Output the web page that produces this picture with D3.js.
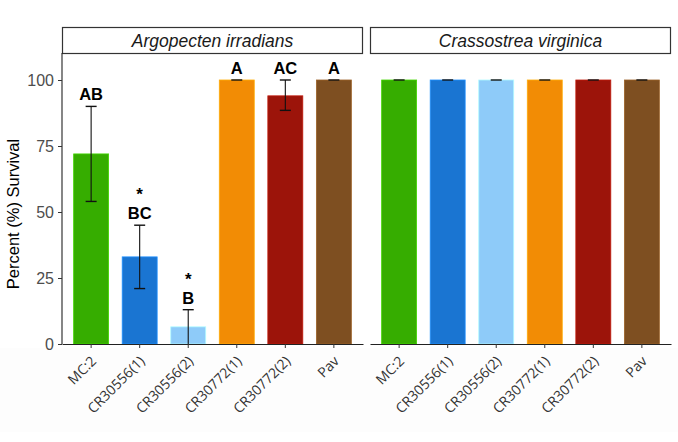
<!DOCTYPE html>
<html><head><meta charset="utf-8">
<script src="https://cdn.jsdelivr.net/npm/d3@7"></script>
<style>body{margin:0;background:#fff}svg{display:block}</style>
</head><body>
<svg id="c" width="678" height="442"></svg>
<script>
const categories = ["MC:2","CR30556(1)","CR30556(2)","CR30772(1)","CR30772(2)","Pav"];
const colors = ["#36ad00","#1a75d2","#8ecbf9","#f28c05","#9c140a","#7e4f21"];
const panels = ["Argopecten irradians","Crassostrea virginica"];
const argoMean = [72, 33, 6.5, 100, 94, 100];
const argoLow  = [54, 21, 0, 100, 88.5, 100];
const argoHigh = [90, 45, 13, 100, 100, 100];
const argoLetters = ["AB","BC","B","A","AC","A"];
const argoStars = ["","*","*","","",""];
const crasMean = [100,100,100,100,100,100];
const crasLow  = [100,100,100,100,100,100];
const crasHigh = [100,100,100,100,100,100];
const yTicks = [0,25,50,75,100];

const svg = d3.select("#c");
svg.append("rect").attr("x",0).attr("y",348).attr("width",678).attr("height",84).attr("fill","#fdfdfd");

const y = d3.scaleLinear().domain([0,100]).range([344,80]);
const panelX = [[62,363],[370,671]];
const sets = [
  {mean:argoMean, low:argoLow, high:argoHigh, letters:argoLetters, stars:argoStars},
  {mean:crasMean, low:crasLow, high:crasHigh, letters:null, stars:null}
];
const font = "Liberation Sans, Arial, sans-serif";

panels.forEach((name,p)=>{
  const [x0,x1] = panelX[p];
  const x = d3.scaleBand().domain(categories).range([x0,x1]).paddingInner(0.28).paddingOuter(0.24);
  const s = sets[p];
  const rows = categories.map((c,i)=>({c, i, mean:s.mean[i], low:s.low[i], high:s.high[i],
    letter: s.letters ? s.letters[i] : "", star: s.stars ? s.stars[i] : ""}));
  const g = svg.append("g");
  // strip
  g.append("rect").attr("x",x0+0.5).attr("y",27.5).attr("width",x1-x0-1).attr("height",26)
    .attr("fill","#fff").attr("stroke","#333").attr("stroke-width",1.2);
  g.append("text").attr("x",(x0+x1)/2).attr("y",46.5).attr("text-anchor","middle")
    .attr("font-family",font).attr("font-size",17.5).attr("font-style","italic")
    .attr("fill","#1a1a1a").text(name);
  // bars
  g.selectAll("rect.bar").data(rows).join("rect").attr("class","bar")
    .attr("x",d=>x(d.c)).attr("width",x.bandwidth())
    .attr("y",d=>y(d.mean)).attr("height",d=>y(0)-y(d.mean))
    .attr("fill",d=>colors[d.i]).attr("stroke",d=>d3.color(colors[d.i]).brighter(0.6)).attr("stroke-width",0.8);
  // error bars
  const cx = d => x(d.c)+x.bandwidth()/2;
  const eb = g.selectAll("g.eb").data(rows).join("g").attr("class","eb");
  eb.filter(d=>d.high>d.low).append("line").attr("x1",cx).attr("x2",cx).attr("y1",d=>y(d.low)).attr("y2",d=>y(d.high))
    .attr("stroke","#111").attr("stroke-width",1.1);
  eb.append("line").attr("x1",d=>cx(d)-5.5).attr("x2",d=>cx(d)+5.5).attr("y1",d=>y(d.high)).attr("y2",d=>y(d.high))
    .attr("stroke","#111").attr("stroke-width",1.4);
  eb.filter(d=>d.low>0 && d.low<d.high).append("line").attr("x1",d=>cx(d)-5.5).attr("x2",d=>cx(d)+5.5).attr("y1",d=>y(d.low)).attr("y2",d=>y(d.low))
    .attr("stroke","#111").attr("stroke-width",1.4);
  // letters
  g.selectAll("text.let").data(rows.filter(d=>d.letter)).join("text").attr("class","let")
    .attr("x",cx).attr("y",d=>y(d.high)-6).attr("text-anchor","middle")
    .attr("font-family",font).attr("font-weight","bold").attr("font-size",16.5)
    .attr("fill","#000").text(d=>d.letter);
  g.selectAll("text.star").data(rows.filter(d=>d.star)).join("text").attr("class","star")
    .attr("x",cx).attr("y",d=>y(d.high)-25).attr("text-anchor","middle")
    .attr("font-family",font).attr("font-weight","bold").attr("font-size",17)
    .attr("fill","#000").text(d=>d.star);
  // x axis
  const xa = g.append("g").attr("transform",`translate(0,${y(0)})`)
    .call(d3.axisBottom(x).tickSize(4).tickSizeOuter(0));
  xa.select(".domain").attr("stroke","#222").attr("stroke-width",1.1);
  xa.selectAll(".tick line").attr("stroke","#333");
  xa.selectAll(".tick text").attr("font-family","Open Sans, sans-serif").attr("font-size",14).attr("fill","#333")
    .attr("text-anchor","end").attr("y",0).attr("dy",0).attr("dx",0)
    .attr("transform","translate(6,18) rotate(-45)");
  if(p===0){
    const ya = g.append("g").attr("transform",`translate(${x0},0)`)
      .call(d3.axisLeft(y).tickValues(yTicks).tickSize(4).tickSizeOuter(0));
    ya.select(".domain").attr("stroke","#222").attr("stroke-width",1.1).attr("d",`M0,53V${y(0)}`);
    ya.selectAll(".tick line").attr("stroke","#333");
    ya.selectAll(".tick text").attr("font-family",font).attr("font-size",16).attr("fill","#4d4d4d").attr("dx",-1);
  }
});
svg.append("text").attr("transform",`translate(19,214) rotate(-90)`).attr("text-anchor","middle")
  .attr("font-family",font).attr("font-size",16.5).attr("fill","#000")
  .text("Percent (%) Survival");
</script>
</body></html>
